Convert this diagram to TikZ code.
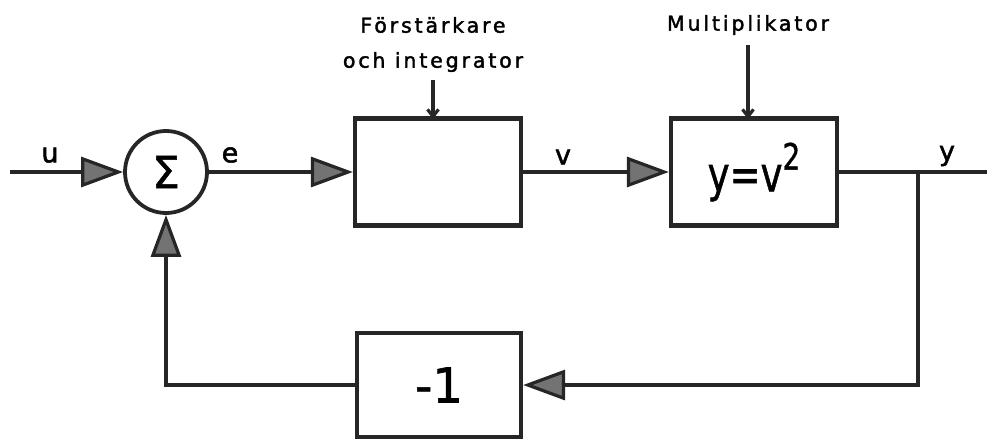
\documentclass[tikz,border=0pt]{standalone}
\usepackage{fontspec}
\setmainfont{DejaVu Sans}[FakeBold=1.2]
\newfontfamily\lab[LetterSpace=14,FakeBold=1.8]{DejaVu Sans}
\usetikzlibrary{arrows.meta}
\tikzset{
 blk/.style={draw=black!85, line width=4.2pt, minimum width=166pt, minimum height=107pt, inner sep=0pt},
 sig/.style={draw=black!85, line width=3.2pt, -{Triangle[length=42pt,width=30pt,fill=black!55]}},
 wire/.style={draw=black!85, line width=3.2pt},
 pointer/.style={draw=black!85, line width=3.2pt, -{Straight Barb[length=7pt,width=11pt]}},
 lbl/.style={font=\lab\fontsize{20.5}{22}\selectfont, inner sep=0pt},
 sym/.style={font=\lab\fontsize{27}{29}\selectfont, inner sep=0pt},
}
\begin{document}
\begin{tikzpicture}[x=1pt,y=-1pt]
\useasboundingbox (0,0) rectangle (987,439);
\node[draw=black!85, circle, line width=3.8pt, minimum size=82pt, inner sep=0pt, font=\fontsize{44}{48}\selectfont] (sum) at (166,172) {Σ};
\node[blk] (b1) at (438,172) {};
\node[blk, font=\fontsize{37}{40}\selectfont] (b2) at (754,172) {\scalebox{1}[1.3]{y=v\raisebox{0.45em}{\fontsize{28}{30}\selectfont 2}}};
\node[blk, minimum width=164pt, minimum height=104pt, font=\fontsize{48}{50}\selectfont] (fb) at (439,385) {-1};
\coordinate (in) at (10,172);
\coordinate (out) at (987,172);
\coordinate (br) at (918,172);
\coordinate (brd) at (918,385);
\coordinate (cl) at (166,385);
\node[lbl] (l1) at (433,25) {Förstärkare};
\node[lbl] (l2) at (433,62) {och integrator};
\node[lbl] (l3) at (748,25) {Multiplikator};
\coordinate (p1) at (433,119);
\coordinate (p3) at (748,119);
\node[sym] (u) at (50,155) {u};
\node[sym] (e) at (230,155) {e};
\node[sym] (v) at (563,157) {v};
\node[sym] (y) at (947,156) {y};
\draw[sig] (in) -- (sum.west);
\draw[sig] (sum.east) -- (b1.west);
\draw[sig] (b1.east) -- (b2.west);
\draw[wire] (b2.east) -- (out);
\draw[sig] (br) -- (brd) -- (fb.east);
\draw[sig] (fb.west) -- (cl) -- (sum.south);
\draw[pointer] (l2.south -| p1) ++(0,8) -- (p1);
\draw[pointer] (l3.south -| p3) ++(0,10) -- (p3);
\end{tikzpicture}
\end{document}
